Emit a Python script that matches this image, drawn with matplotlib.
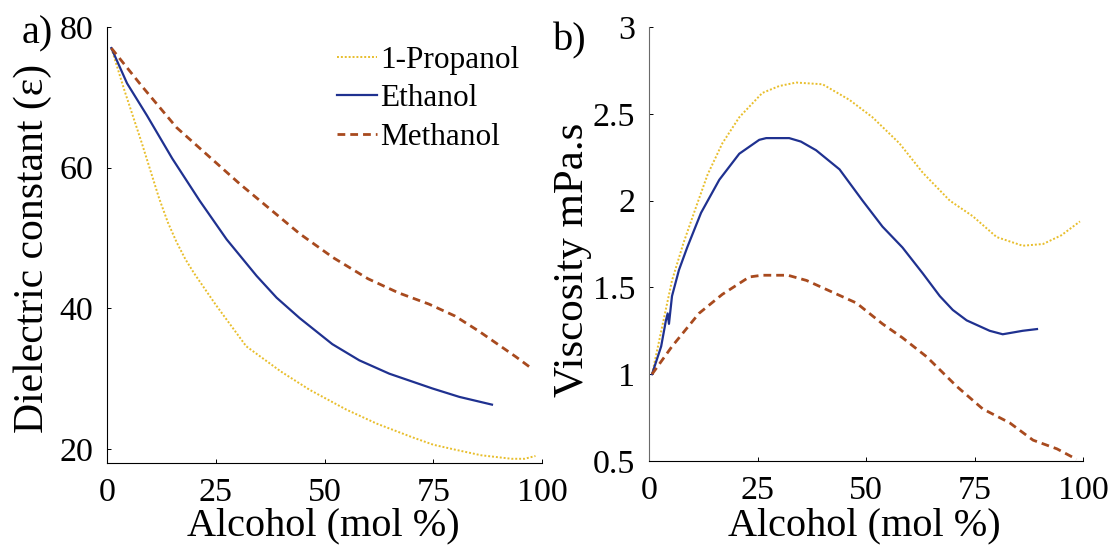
import matplotlib
matplotlib.use("Agg")
import matplotlib.pyplot as plt

plt.rcParams['font.family'] = ['Liberation Serif', 'DejaVu Serif']

# a) dielectric constant vs alcohol mol %
prop_x_a = [1, 4, 8, 12, 14, 16, 18, 20, 25, 32, 40, 46.6, 55, 62, 70, 75, 80, 86, 93, 96, 98.5]
prop_eps = [77, 71, 63.5, 55.6, 52.2, 49.4, 47, 45, 40.5, 34.6, 31, 28.4, 25.6, 23.6, 21.7, 20.6, 19.9, 19.1, 18.6, 18.6, 19.0]
eth_x_a = [1, 4.6, 9.2, 15, 21.3, 27.5, 34.4, 39, 44.3, 51.8, 58, 64.9, 74.8, 81, 88.5]
eth_eps = [77, 72, 67.4, 61.3, 55.3, 49.8, 44.6, 41.5, 38.6, 34.9, 32.6, 30.7, 28.6, 27.4, 26.3]
meth_x_a = [1, 8, 16, 30.5, 44.3, 52, 60, 67, 74, 80, 85.6, 94, 97.5]
meth_eps = [77, 71.6, 65.7, 57.7, 50.6, 47.2, 44.2, 42.2, 40.6, 38.9, 36.7, 33.1, 31.5]

# b) viscosity vs alcohol mol %
prop_x_b = [0.7, 3, 5.3, 8, 10.8, 13.5, 16.9, 20.8, 26.1, 30, 33.9, 40, 46.2, 51.5, 57.7,
            63.1, 69.3, 74.6, 80.1, 86.1, 90.8, 95, 99.3]
prop_visc = [1.0, 1.27, 1.54, 1.76, 1.96, 2.15, 2.33, 2.48, 2.62, 2.66, 2.68, 2.67, 2.58, 2.48, 2.33,
             2.16, 2.0, 1.91, 1.79, 1.74, 1.75, 1.8, 1.88]
eth_x_b = [0.7, 2.8, 3.9, 4.3, 4.6, 5.3, 6.9, 8.8, 12, 16.2, 20.8, 25.4, 27, 32.3, 35, 38.5,
           43.9, 49.2, 53.8, 58.4, 63.1, 67, 70, 73.2, 78.5, 81.5, 83.8, 86.1, 89.4]
eth_visc = [1.0, 1.16, 1.31, 1.35, 1.29, 1.45, 1.6, 1.73, 1.93, 2.12, 2.27, 2.35, 2.36, 2.36, 2.34, 2.29,
            2.18, 2.0, 1.85, 1.73, 1.58, 1.45, 1.37, 1.31, 1.25, 1.23, 1.24, 1.25, 1.26]
meth_x_b = [0.7, 5.3, 11.5, 16.9, 23.1, 26, 32, 36.3, 41.6, 47.8, 53.8, 58.4, 64, 70.9, 76.9,
            83.1, 88.5, 94, 98.5]
meth_visc = [1.0, 1.16, 1.35, 1.46, 1.56, 1.57, 1.57, 1.54, 1.48, 1.41, 1.29, 1.21, 1.1, 0.93, 0.8,
             0.72, 0.62, 0.57, 0.51]

x_ticks = [0, 25, 50, 75, 100]
eps_ticks = [20, 40, 60, 80]
visc_ticks = [0.5, 1, 1.5, 2, 2.5, 3]
visc_labels = ['0.5', '1', '1.5', '2', '2.5', '3']

c_prop = '#E8BE2C'
c_eth = '#1F3190'
c_meth = '#A84A1E'

W, H = 1115, 548
fig = plt.figure(figsize=(W / 100, H / 100), dpi=100)

def fx(px):
    return px / W

def fy(py):
    return 1 - py / H

ax1 = fig.add_axes([fx(107), fy(463), fx(542) - fx(107), fy(27) - fy(463)])
ax2 = fig.add_axes([fx(649), fy(461), fx(1083) - fx(649), fy(27) - fy(461)])

ax1.plot(prop_x_a, prop_eps, color=c_prop, lw=1.4, ls=(0, (1, 1)), label='1-Propanol')
ax1.plot(eth_x_a, eth_eps, color=c_eth, lw=1.6, label='Ethanol')
ax1.plot(meth_x_a, meth_eps, color=c_meth, lw=2, dashes=(2.8, 1.8), label='Methanol')

ax2.plot(prop_x_b, prop_visc, color=c_prop, lw=1.4, ls=(0, (1, 1)))
ax2.plot(eth_x_b, eth_visc, color=c_eth, lw=1.6)
ax2.plot(meth_x_b, meth_visc, color=c_meth, lw=2, dashes=(2.8, 1.8))

ax1.set_xlim(0, 100)
ax1.set_ylim(18, 80)
ax1.set_yticks(eps_ticks)
ax2.set_xlim(0, 100)
ax2.set_ylim(0.5, 3)
ax2.set_yticks(visc_ticks)
ax2.set_yticklabels(visc_labels)

for ax in (ax1, ax2):
    ax.set_xticks(x_ticks)
    for s in ('top', 'right'):
        ax.spines[s].set_visible(False)
    for s in ('left', 'bottom'):
        ax.spines[s].set_linewidth(0.8)
    ax.tick_params(direction='in', length=3, width=0.7, labelsize=24.5)
    ax.tick_params(axis='x', pad=10.5)
    ax.tick_params(axis='y', pad=10)
    ax.patch.set_visible(False)
ax2.spines['left'].set_color('#6a6a6a')

ax1.set_xlabel('Alcohol (mol %)', fontsize=29)
ax2.set_xlabel('Alcohol (mol %)', fontsize=29)
ax1.set_ylabel('Dielectric constant (\u03b5)', fontsize=30)
ax2.set_ylabel('Viscosity mPa.s', fontsize=31)

ax1.xaxis.set_label_coords(fx(323), fy(535), transform=fig.transFigure)
ax2.xaxis.set_label_coords(fx(864), fy(535), transform=fig.transFigure)
ax1.yaxis.set_label_coords(fx(43), fy(248), transform=fig.transFigure)
ax2.yaxis.set_label_coords(fx(583), fy(260), transform=fig.transFigure)
for lab in (ax1.xaxis.label, ax2.xaxis.label, ax1.yaxis.label, ax2.yaxis.label):
    lab.set_va('baseline')
    lab.set_ha('center')

fig.text(fx(22), fy(43), 'a)', fontsize=29, va='baseline', ha='left')
fig.text(fx(553), fy(50), 'b)', fontsize=29, va='baseline', ha='left')

ax1.legend(loc='upper left', bbox_to_anchor=(fx(337), fy(46)), bbox_transform=fig.transFigure,
           frameon=False, fontsize=22.5, handlelength=1.28, handletextpad=0.1,
           labelspacing=0.3, borderpad=0, borderaxespad=0)

fig.savefig('out.png', dpi=100)
